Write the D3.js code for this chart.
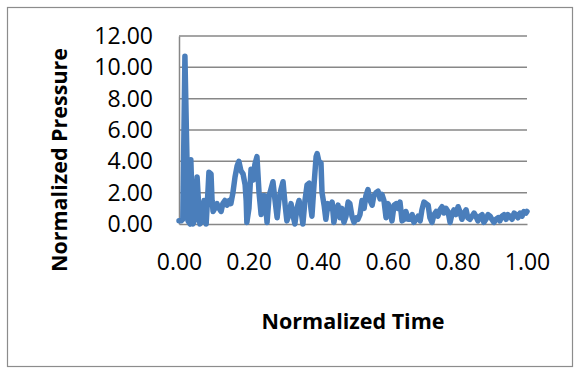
<!DOCTYPE html>
<html>
<head>
<meta charset="utf-8">
<script src="https://cdn.jsdelivr.net/npm/d3@7"></script>
<style>
  html, body { margin: 0; padding: 0; background: #fff; }
  svg { display: block; font-family: "Open Sans", sans-serif; }
</style>
</head>
<body>
<svg id="chart" width="574" height="368"></svg>
<script>
// normalized time / pressure
const time = [
  0.000, 0.006, 0.011, 0.017, 0.023, 0.026, 0.032, 0.034, 0.037, 0.040,
  0.046, 0.052, 0.057, 0.060, 0.066, 0.072, 0.078, 0.083, 0.086, 0.092,
  0.095, 0.098, 0.103, 0.109, 0.115, 0.121, 0.126, 0.132, 0.138, 0.144,
  0.149, 0.155, 0.161, 0.167, 0.172, 0.178, 0.184, 0.190, 0.193, 0.195,
  0.201, 0.207, 0.213, 0.218, 0.224, 0.230, 0.236, 0.241, 0.247, 0.253,
  0.259, 0.264, 0.270, 0.276, 0.282, 0.287, 0.293, 0.299, 0.305, 0.310,
  0.316, 0.322, 0.328, 0.333, 0.339, 0.345, 0.351, 0.356, 0.362, 0.368,
  0.374, 0.379, 0.382, 0.388, 0.394, 0.397, 0.402, 0.408, 0.411, 0.417,
  0.422, 0.428, 0.434, 0.440, 0.445, 0.451, 0.457, 0.463, 0.468, 0.474,
  0.480, 0.486, 0.491, 0.497, 0.503, 0.509, 0.514, 0.520, 0.526, 0.532,
  0.537, 0.543, 0.549, 0.555, 0.560, 0.566, 0.572, 0.578, 0.583, 0.589,
  0.595, 0.601, 0.606, 0.612, 0.618, 0.624, 0.629, 0.635, 0.641, 0.647,
  0.652, 0.658, 0.664, 0.670, 0.675, 0.681, 0.687, 0.693, 0.698, 0.704,
  0.710, 0.716, 0.721, 0.727, 0.733, 0.739, 0.744, 0.750, 0.756, 0.761,
  0.767, 0.773, 0.779, 0.784, 0.790, 0.796, 0.802, 0.807, 0.813, 0.819,
  0.825, 0.830, 0.836, 0.842, 0.848, 0.853, 0.859, 0.865, 0.871, 0.876,
  0.882, 0.888, 0.894, 0.899, 0.905, 0.911, 0.917, 0.922, 0.928, 0.934,
  0.940, 0.945, 0.951, 0.957, 0.963, 0.968, 0.974, 0.980, 0.986, 0.991,
  0.997, 1.000
];
const pressure = [
  0.2, 0.2, 0.3, 10.7, 4.0, 0.2, 0.0, 4.1, 2.0, 0.0,
  0.3, 3.0, 1.0, 0.0, 0.2, 1.5, 0.0, 2.0, 3.3, 3.2,
  1.5, 0.8, 1.0, 1.3, 1.0, 0.8, 1.3, 1.5, 1.2, 1.5,
  1.3, 2.0, 3.0, 3.7, 4.0, 3.4, 3.2, 2.5, 1.5, 0.1,
  1.0, 3.5, 2.8, 3.8, 4.3, 2.0, 0.6, 1.8, 1.8, 0.1,
  1.8, 2.2, 2.7, 1.5, 0.4, 1.5, 2.2, 2.7, 1.2, 0.2,
  0.6, 1.3, 0.5, 0.0, 1.0, 1.5, 0.8, 0.0, 1.5, 2.5,
  2.6, 1.0, 0.5, 2.5, 4.3, 4.5, 4.0, 3.9, 2.0, 1.2,
  0.3, 1.3, 1.0, 1.4, 0.1, 0.8, 1.2, 0.4, 1.0, 0.1,
  0.5, 1.4, 1.3, 0.5, 0.1, 0.4, 0.3, 0.6, 1.5, 1.0,
  1.8, 2.2, 1.5, 1.2, 1.8, 2.0, 2.1, 1.6, 1.9, 1.5,
  0.4, 1.3, 0.9, 0.2, 1.2, 1.3, 1.0, 1.4, 0.2, 0.3,
  0.8, 0.3, 0.3, 0.6, 0.1, 0.3, 0.5, 0.2, 0.9, 1.4,
  1.3, 1.2, 0.4, 0.1, 0.6, 0.8, 0.5, 0.9, 1.1, 0.7,
  1.0, 0.8, 0.1, 0.6, 0.9, 0.6, 1.1, 0.8, 0.3, 0.7,
  0.9, 0.4, 0.3, 0.5, 0.7, 0.5, 0.2, 0.5, 0.6, 0.1,
  0.3, 0.6, 0.5, 0.3, 0.1, 0.3, 0.4, 0.2, 0.5, 0.6,
  0.3, 0.6, 0.5, 0.3, 0.7, 0.6, 0.4, 0.7, 0.5, 0.8,
  0.7, 0.8
];
const yTicks = [0, 2, 4, 6, 8, 10, 12];
const xTicks = [0, 0.2, 0.4, 0.6, 0.8, 1.0];

const svg = d3.select('#chart');
const plot = { left: 179, right: 527, top: 36, bottom: 224 };
const gridColor = '#878787';
const lineColor = '#4A7EBB';

// outer chart border
svg.append('rect')
  .attr('x', 7.5).attr('y', 7.5)
  .attr('width', 565).attr('height', 359)
  .attr('fill', 'none')
  .attr('stroke', '#8c8c8c')
  .attr('stroke-width', 1.2);

const x = d3.scaleLinear().domain([0, 1]).range([plot.left, plot.right]);
const y = d3.scaleLinear().domain([0, 12]).range([plot.bottom, plot.top]);

// horizontal gridlines
svg.append('g')
  .selectAll('line')
  .data(yTicks.filter(d => d > 0))
  .enter()
  .append('line')
  .attr('x1', plot.left).attr('x2', plot.right)
  .attr('y1', d => y(d)).attr('y2', d => y(d))
  .attr('stroke', gridColor)
  .attr('stroke-width', 1.5);

// y axis
const yAxis = svg.append('g')
  .attr('transform', `translate(${plot.left},0)`)
  .call(d3.axisLeft(y).tickValues(yTicks).tickFormat(d3.format('.2f')).tickSize(0).tickPadding(26));
yAxis.select('.domain').attr('stroke', gridColor).attr('stroke-width', 1.5);
yAxis.selectAll('text')
  .attr('font-size', 23)
  .attr('font-family', '"Open Sans", sans-serif')
  .attr('fill', '#000');

// x axis
const xAxis = svg.append('g')
  .attr('transform', `translate(0,${plot.bottom})`)
  .call(d3.axisBottom(x).tickValues(xTicks).tickFormat(d3.format('.2f')).tickSize(0).tickPadding(30));
xAxis.select('.domain').attr('stroke', gridColor).attr('stroke-width', 1.5);
xAxis.selectAll('text')
  .attr('font-size', 23)
  .attr('font-family', '"Open Sans", sans-serif')
  .attr('fill', '#000');

// the series
const line = d3.line()
  .x((d, i) => x(time[i]))
  .y(d => y(d));

svg.append('path')
  .datum(pressure)
  .attr('d', line)
  .attr('fill', 'none')
  .attr('stroke', lineColor)
  .attr('stroke-width', 5.5)
  .attr('stroke-linejoin', 'round')
  .attr('stroke-linecap', 'round');

// axis titles
svg.append('text')
  .attr('x', (plot.left + plot.right) / 2)
  .attr('y', 320)
  .attr('text-anchor', 'middle')
  .attr('dominant-baseline', 'central')
  .attr('font-size', 21.5)
  .attr('font-weight', 'bold')
  .text('Normalized Time');

svg.append('text')
  .attr('transform', 'translate(58,160) rotate(-90)')
  .attr('text-anchor', 'middle')
  .attr('dominant-baseline', 'central')
  .attr('font-size', 21.5)
  .attr('font-weight', 'bold')
  .text('Normalized Pressure');
</script>
</body>
</html>
